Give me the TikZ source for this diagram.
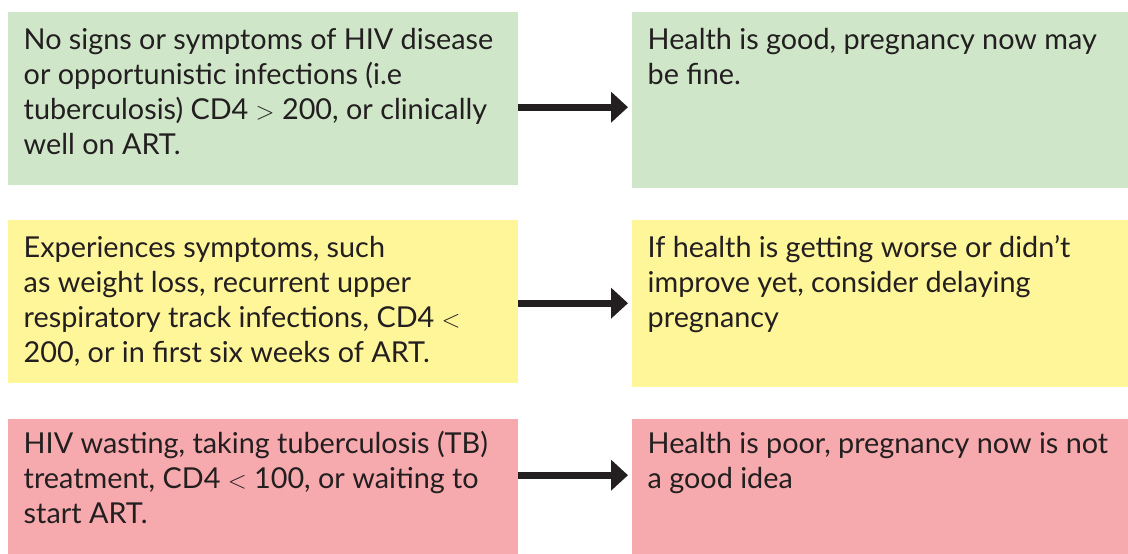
\documentclass[tikz,border=0pt]{standalone}
\usepackage{fontspec}
\setmainfont{Lato}
\usetikzlibrary{arrows.meta,positioning}
\definecolor{okgreen}{HTML}{CFE6C9}
\definecolor{waityellow}{HTML}{FFF69A}
\definecolor{badpink}{HTML}{F6AAAD}
\definecolor{ink}{HTML}{231F20}
\tikzset{%
    box/.style={%
        shape=rectangle, inner sep=0pt, anchor=north west, draw=none
    },
    txt/.style={%
        inner sep=0pt, align=left, text=ink,
        font=\fontsize{28.8}{35}\selectfont
    },
    go/.style={%
        draw=ink, line width=7pt, -{Triangle[length=17pt,width=30pt]}
    }
}

\begin{document}
\begin{tikzpicture}[x=1pt, y=-1pt]
    \useasboundingbox (0,0) rectangle (1128,554);
    % situation boxes on the left
    \node[box, fill=okgreen, minimum width=510pt, minimum height=173pt] (s1) at (8,12) {};
    \node[box, fill=waityellow, minimum width=510pt, minimum height=163pt] (s2) at (8,220) {};
    \node[box, fill=badpink, minimum width=510pt, minimum height=135pt] (s3) at (8,419) {};
    % advice boxes on the right
    \node[box, fill=okgreen, minimum width=496pt, minimum height=176pt] (h1) at (632,12) {};
    \node[box, fill=waityellow, minimum width=496pt, minimum height=167pt] (h2) at (632,220) {};
    \node[box, fill=badpink, minimum width=496pt, minimum height=135pt] (h3) at (632,419) {};
    % texts
    \node[txt, below right=13pt and 15.5pt of s1.north west] (ts1)
        {\strut No signs or symptoms of HIV disease\\ or opportunistic infections (i.e\\ tuberculosis) CD4 $>$ 200, or clinically\\ well on ART.};
    \node[txt, below right=13pt and 15.5pt of h1.north west] (th1)
        {\strut Health is good, pregnancy now may\\ be fine.};
    \node[txt, below right=12.5pt and 15.5pt of s2.north west] (ts2)
        {\strut Experiences symptoms, such\\ as weight loss, recurrent upper\\ respiratory track infections, CD4 $<$\\ 200, or in first six weeks of ART.};
    \node[txt, below right=12.5pt and 15.5pt of h2.north west] (th2)
        {\strut If health is getting worse or didn’t\\ improve yet, consider delaying\\ pregnancy};
    \node[txt, below right=9.5pt and 15.5pt of s3.north west] (ts3)
        {\strut HIV wasting, taking tuberculosis (TB)\\ treatment, CD4 $<$ 100, or waiting to\\ start ART.};
    \node[txt, below right=9.5pt and 15.5pt of h3.north west] (th3)
        {\strut Health is poor, pregnancy now is not\\ a good idea};
    % arrows
    \draw[go] ([yshift=-8.5pt]s1.east) -- ([xshift=-4pt, yshift=-7pt]h1.west);
    \draw[go] ([yshift=-1.5pt]s2.east) -- ([xshift=-4pt, yshift=0.5pt]h2.west);
    \draw[go] ([yshift=11.5pt]s3.east) -- ([xshift=-4pt, yshift=11.5pt]h3.west);
\end{tikzpicture}
\end{document}
